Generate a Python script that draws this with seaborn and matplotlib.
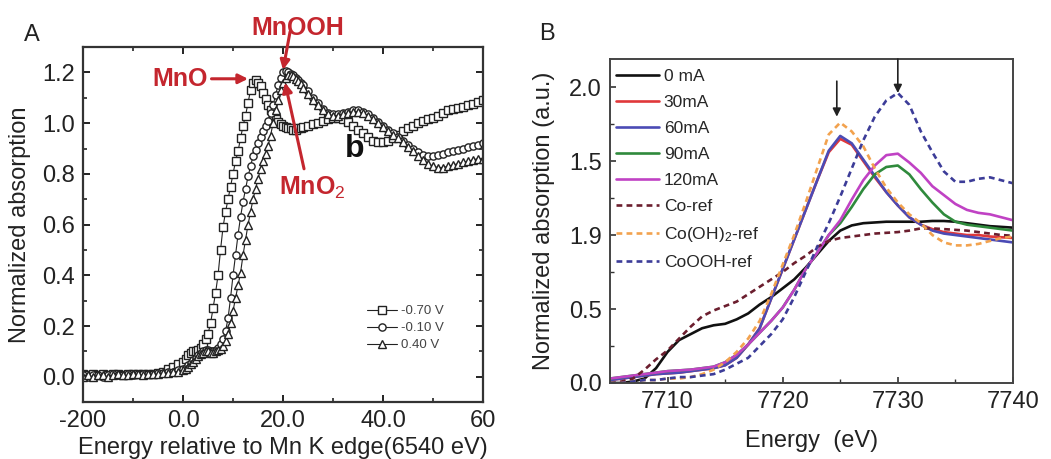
import numpy as np
import pandas as pd
import seaborn as sns
import matplotlib.pyplot as plt

# ---------------- panel A: Mn K-edge XANES ----------------
# energy grid (eV relative to edge): coarse pre-edge, fine edge, coarse post-edge
energy_a = np.concatenate([np.arange(-20, 0, 1.0), np.arange(0, 24.5, 0.5), np.arange(25, 61, 1.0)])

mn_070 = [0.01, 0.005, 0.01, 0.005, 0.01, 0.005, 0.01, 0.01, 0.005, 0.01, 0.01, 0.01, 0.01, 0.01, 0.01,
          0.015, 0.02, 0.03, 0.04, 0.05,
          0.06, 0.07, 0.085, 0.095, 0.10, 0.10, 0.105, 0.115, 0.13, 0.15, 0.17, 0.21, 0.27, 0.33, 0.40, 0.50,
          0.59, 0.65, 0.70, 0.75, 0.80, 0.85, 0.89, 0.94, 0.99, 1.03, 1.08, 1.13, 1.16, 1.17, 1.16, 1.145,
          1.12, 1.095, 1.07, 1.05, 1.03, 1.015, 1.005, 0.995, 0.99, 0.985, 0.98, 0.98, 0.975, 0.975, 0.98,
          0.98, 0.985,
          0.99, 0.995, 1.0, 1.01, 1.015, 1.02, 1.02, 1.015, 1.005, 0.99, 0.975, 0.96, 0.945, 0.93, 0.925,
          0.925, 0.93, 0.94, 0.955, 0.97, 0.98, 0.99, 1.0, 1.01, 1.015, 1.02, 1.03, 1.04, 1.05, 1.055, 1.06,
          1.065, 1.07, 1.075, 1.085, 1.09]
mn_010 = [0.005, 0.0, 0.005, 0.005, 0.0, 0.005, 0.01, 0.005, 0.005, 0.01, 0.005, 0.01, 0.01, 0.01, 0.01,
          0.015, 0.015, 0.02, 0.02, 0.025,
          0.03, 0.035, 0.045, 0.055, 0.065, 0.075, 0.085, 0.095, 0.10, 0.105, 0.105, 0.10, 0.10, 0.105, 0.115,
          0.13, 0.15, 0.18, 0.23, 0.31, 0.40, 0.48, 0.56, 0.63, 0.69, 0.74, 0.79, 0.83, 0.87, 0.895, 0.92,
          0.945, 0.97, 0.99, 1.01, 1.04, 1.07, 1.11, 1.15, 1.18, 1.20, 1.205, 1.20, 1.195, 1.19, 1.18, 1.17,
          1.16, 1.15,
          1.125, 1.10, 1.08, 1.055, 1.04, 1.035, 1.035, 1.04, 1.045, 1.05, 1.05, 1.045, 1.035, 1.02, 1.005,
          0.99, 0.975, 0.96, 0.945, 0.93, 0.915, 0.90, 0.885, 0.875, 0.87, 0.87, 0.875, 0.88, 0.885, 0.89,
          0.895, 0.90, 0.905, 0.91, 0.915, 0.92]
mn_040 = [0.0, 0.005, 0.0, 0.005, 0.005, 0.0, 0.005, 0.01, 0.005, 0.005, 0.01, 0.01, 0.005, 0.01, 0.01,
          0.01, 0.015, 0.015, 0.02, 0.02,
          0.025, 0.03, 0.04, 0.05, 0.06, 0.07, 0.08, 0.09, 0.095, 0.10, 0.10, 0.095, 0.095, 0.10, 0.105,
          0.11, 0.12, 0.14, 0.17, 0.21, 0.26, 0.31, 0.36, 0.41, 0.48, 0.54, 0.60, 0.65, 0.70, 0.74, 0.78,
          0.82, 0.85, 0.88, 0.91, 0.95, 1.00, 1.05, 1.09, 1.13, 1.16, 1.18, 1.19, 1.19, 1.185, 1.175, 1.165,
          1.155, 1.14,
          1.115, 1.09, 1.07, 1.05, 1.035, 1.03, 1.03, 1.035, 1.04, 1.045, 1.045, 1.04, 1.03, 1.015, 1.0,
          0.985, 0.97, 0.955, 0.94, 0.925, 0.905, 0.89, 0.87, 0.855, 0.84, 0.83, 0.825, 0.825, 0.83, 0.835,
          0.84, 0.845, 0.85, 0.855, 0.86, 0.86]
a_labels = ["-0.70 V", "-0.10 V", "0.40 V"]
a_markers = ["s", "o", "^"]

# ---------------- panel B: Co K-edge XANES ----------------
energy_b = np.arange(7705, 7741, 1.0)

b_0ma = [0.0, 0.0, 0.01, 0.03, 0.10, 0.21, 0.29, 0.33, 0.37, 0.39, 0.40, 0.43, 0.47, 0.53, 0.58, 0.64,
         0.70, 0.78, 0.87, 0.96, 1.03, 1.065, 1.08, 1.085, 1.09, 1.09, 1.09, 1.09, 1.095, 1.095, 1.09,
         1.08, 1.07, 1.06, 1.055, 1.05]
b_30ma = [0.02, 0.03, 0.04, 0.05, 0.06, 0.065, 0.07, 0.08, 0.09, 0.10, 0.12, 0.17, 0.26, 0.37, 0.57,
          0.77, 0.97, 1.17, 1.37, 1.56, 1.65, 1.61, 1.50, 1.39, 1.29, 1.20, 1.12, 1.07, 1.04, 1.02, 1.01,
          1.0, 1.0, 0.99, 0.985, 0.98]
b_60ma = [0.02, 0.03, 0.04, 0.05, 0.06, 0.065, 0.07, 0.08, 0.09, 0.10, 0.12, 0.17, 0.26, 0.37, 0.57,
          0.77, 0.97, 1.17, 1.37, 1.57, 1.67, 1.62, 1.51, 1.40, 1.29, 1.20, 1.12, 1.07, 1.03, 1.01, 1.0,
          0.99, 0.98, 0.97, 0.96, 0.95]
b_90ma = [0.03, 0.04, 0.05, 0.06, 0.07, 0.08, 0.085, 0.09, 0.10, 0.11, 0.14, 0.19, 0.26, 0.34, 0.42,
          0.51, 0.63, 0.77, 0.88, 1.0, 1.08, 1.19, 1.31, 1.41, 1.46, 1.47, 1.41, 1.31, 1.22, 1.14, 1.09,
          1.07, 1.06, 1.05, 1.04, 1.03]
b_120ma = [0.03, 0.04, 0.05, 0.06, 0.07, 0.08, 0.085, 0.09, 0.10, 0.11, 0.14, 0.19, 0.26, 0.34, 0.42,
           0.51, 0.63, 0.77, 0.88, 1.0, 1.10, 1.24, 1.37, 1.47, 1.54, 1.55, 1.49, 1.42, 1.33, 1.27, 1.21,
           1.17, 1.15, 1.14, 1.12, 1.10]
b_co = [0.0, 0.01, 0.03, 0.09, 0.16, 0.22, 0.30, 0.38, 0.45, 0.49, 0.52, 0.55, 0.60, 0.65, 0.70, 0.75,
        0.81, 0.86, 0.92, 0.96, 0.98, 0.99, 1.0, 1.01, 1.015, 1.02, 1.03, 1.045, 1.045, 1.04, 1.035, 1.03,
        1.02, 1.01, 1.0, 0.995]
b_cooh2 = [0.0, 0.0, 0.01, 0.02, 0.02, 0.03, 0.03, 0.04, 0.06, 0.09, 0.14, 0.21, 0.30, 0.42, 0.60, 0.80,
           1.00, 1.22, 1.45, 1.68, 1.76, 1.70, 1.60, 1.45, 1.32, 1.22, 1.14, 1.08, 1.0, 0.95, 0.93, 0.93,
           0.94, 0.96, 0.98, 0.99]
b_coooh = [0.0, 0.0, 0.01, 0.02, 0.02, 0.03, 0.04, 0.04, 0.05, 0.06, 0.09, 0.13, 0.17, 0.25, 0.33, 0.43,
           0.58, 0.75, 0.92, 1.08, 1.26, 1.45, 1.64, 1.80, 1.91, 1.96, 1.88, 1.70, 1.56, 1.43, 1.36, 1.36,
           1.38, 1.39, 1.37, 1.35]

b_series = [b_0ma, b_30ma, b_60ma, b_90ma, b_120ma, b_co, b_cooh2, b_coooh]
b_labels = ["0 mA", "30mA", "60mA", "90mA", "120mA", "Co-ref", "Co(OH)$_2$-ref", "CoOOH-ref"]
b_colors = ["#111111", "#e0383a", "#4b4bb5", "#2f8a3c", "#c042c4", "#6b1e2e", "#f2a24e", "#3c3c98"]
b_dashed = [False, False, False, False, False, True, True, True]

sns.set_theme(style="ticks")
plt.rcParams["font.family"] = ["Liberation Sans", "DejaVu Sans"]
plt.rcParams["mathtext.fontset"] = "custom"
plt.rcParams["mathtext.rm"] = "Liberation Sans"
plt.rcParams["mathtext.it"] = "Liberation Sans:italic"

fig = plt.figure(figsize=(10.51, 4.59), dpi=100)
axA = fig.add_axes([0.079, 0.124, 0.3806, 0.7734])
axB = fig.add_axes([0.5804, 0.1656, 0.3834, 0.7059])

# panel A curves
for ys, lab, mk in zip([mn_070, mn_010, mn_040], a_labels, a_markers):
    sns.lineplot(x=energy_a, y=ys, ax=axA, color="#222222", lw=0.8, marker=mk, markersize=5.2,
                 markerfacecolor="white", markeredgecolor="#222222", markeredgewidth=1.0, label=lab)

axA.set_xlim(-20, 60)
axA.set_ylim(-0.1, 1.3)
axA.set_xticks([-20, 0, 20, 40, 60])
axA.set_xticklabels(["-200", "0.0", "20.0", "40.0", "60"])
axA.set_xticks([-10, 10, 30, 50], minor=True)
axA.set_yticks([0.0, 0.2, 0.4, 0.6, 0.8, 1.0, 1.2])
axA.set_yticklabels(["0.0", "0.2", "0.4", "0.6", "0.8", "1.0", "1.2"])
axA.set_yticks([-0.1, 0.1, 0.3, 0.5, 0.7, 0.9, 1.1, 1.3], minor=True)
axA.tick_params(which="both", direction="in", top=True, right=True, labelsize=17, colors="#222222",
                labelcolor="#222222", pad=6)
axA.tick_params(which="major", length=5, width=1.4)
axA.tick_params(which="minor", length=3, width=1.2)
for sp in axA.spines.values():
    sp.set_linewidth(1.6)
    sp.set_color("#333333")
axA.set_xlabel("Energy relative to Mn K edge(6540 eV)", fontsize=17, color="#222222", labelpad=3)
axA.set_ylabel("Normalized absorption", fontsize=17, color="#222222", labelpad=8)
axA.legend(loc="upper left", bbox_to_anchor=(0.71, 0.273), frameon=False, fontsize=9.5,
           handlelength=2.3, handletextpad=0.3, labelspacing=0.36, borderpad=0, borderaxespad=0,
           labelcolor="#444444")

red = "#c4262e"
aprops = dict(arrowstyle="-|>", color=red, lw=2.2, mutation_scale=14, shrinkA=0, shrinkB=0)
axA.annotate("MnO", xy=(13.0, 1.175), xytext=(-0.5, 1.175), fontsize=18, fontweight="bold", color=red,
             ha="center", va="center", arrowprops=aprops)
axA.annotate("", xy=(20.0, 1.21), xytext=(21.4, 1.36), arrowprops=aprops, annotation_clip=False)
axA.text(23.0, 1.375, "MnOOH", fontsize=18, fontweight="bold", color=red, ha="center", va="center",
         clip_on=False)
axA.annotate("", xy=(20.4, 1.16), xytext=(24.2, 0.82), arrowprops=aprops)
axA.text(25.8, 0.745, "MnO$_2$", fontsize=18, fontweight="bold", color=red, ha="center", va="center")
axA.text(34.4, 0.90, "b", fontsize=23, fontweight="bold", color="#111111", ha="center", va="center")
axA.text(-30.2, 1.347, "A", fontsize=17, color="#222222", ha="center", va="center", clip_on=False)

# panel B curves
for ys, lab, col, dashed in zip(b_series, b_labels, b_colors, b_dashed):
    ls = (0, (2.2, 1.6)) if dashed else "-"
    sns.lineplot(x=energy_b, y=ys, ax=axB, color=col, lw=1.9, linestyle=ls, label=lab)

axB.set_xlim(7705, 7740)
axB.set_ylim(0, 2.19)
axB.set_xticks([7710, 7720, 7730, 7740])
axB.set_xticks([7715, 7725, 7735], minor=True)
axB.set_yticks([0.0, 0.5, 1.0, 1.5, 2.0])
axB.set_yticklabels(["0.0", "0.5", "1.9", "1.5", "2.0"])
axB.set_yticks([0.25, 0.75, 1.25, 1.75], minor=True)
axB.tick_params(which="both", direction="in", labelsize=17, colors="#333333", labelcolor="#222222", pad=6)
axB.tick_params(which="major", length=4, width=1.2)
axB.tick_params(which="minor", length=3, width=1.0)
for sp in axB.spines.values():
    sp.set_linewidth(1.4)
    sp.set_color("#444444")
axB.set_xlabel("Energy  (eV)", fontsize=17, color="#222222", labelpad=12)
axB.set_ylabel("Normalized absorption (a.u.)", fontsize=17, color="#222222", labelpad=10)
axB.legend(loc="upper left", bbox_to_anchor=(0.015, 0.97), frameon=False, fontsize=12.5,
           handlelength=2.5, handletextpad=0.25, labelspacing=0.63, borderpad=0, borderaxespad=0)

bprops = dict(arrowstyle="-|>", color="#222222", lw=1.2, mutation_scale=12, shrinkA=0, shrinkB=0)
axB.annotate("", xy=(7724.7, 1.80), xytext=(7724.7, 2.04), arrowprops=bprops)
axB.annotate("", xy=(7730.0, 1.96), xytext=(7730.0, 2.19), arrowprops=bprops, annotation_clip=False)
axB.text(7699.5, 2.36, "B", fontsize=17, color="#222222", ha="center", va="center", clip_on=False)

fig.savefig("out.png", dpi=100)
